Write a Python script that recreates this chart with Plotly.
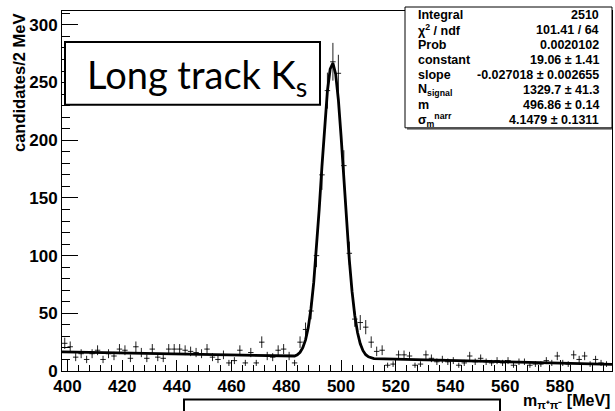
import plotly.graph_objects as go

# ---------------- data ----------------
bin_width = 2.0
bin_centers = list(range(399, 599, 2))          # 100 bins, 398..598 MeV
counts = [
    24, 21, 12, 15, 10, 15, 18, 10, 15, 13,     # 399-417
    19, 18, 11, 21, 16, 11, 19, 12, 11, 19,     # 419-437
    19, 19, 18, 17, 16, 15, 19, 12, 10, 14,     # 439-457
    7, 9, 18, 7, 16, 7, 25, 13, 12, 18,         # 459-477
    19, 13, 7, 25, 36, 52, 100, 170, 243, 268,  # 479-497
    258, 178, 102, 45, 42, 38, 25, 17, 18, 5,   # 499-517
    6, 14, 14, 13, 5, 6, 14, 11, 8, 10,         # 519-537
    8, 9, 5, 7, 13, 8, 11, 8, 7, 9,             # 539-557
    7, 9, 5, 8, 8, 5, 6, 6, 9, 7,               # 559-577
    13, 7, 6, 14, 10, 13, 6, 10, 7, 6,          # 579-597
]
errors = [c ** 0.5 for c in counts]

# fitted curve (background line + Gaussian peak)
fit_x = [398, 482, 483, 484, 485, 486, 487, 488, 489, 490, 491, 492, 493, 494,
         495, 496, 497, 498, 499, 500, 501, 502, 503, 504, 505, 506, 507, 508,
         509, 510, 511, 512, 599]
fit_y = [16.6, 12.5, 13.0, 14.1, 16.2, 20.2, 27.0, 37.8, 54.2, 76.8, 105.9, 140.3,
         177.4, 213.1, 242.7, 261.7, 266.9, 257.5, 235.1, 203.2, 166.4, 129.7, 96.4,
         69.0, 48.1, 33.4, 23.6, 17.6, 14.1, 12.3, 11.3, 10.8, 5.8]

stat_labels = ["Integral", "χ<sup>2</sup> / ndf", "Prob", "constant", "slope",
               "N<sub>signal</sub>", "m", "σ<sub>m</sub><sup>narr</sup>"]
stat_values = ["2510", "101.41 / 64", "0.0020102", "19.06 ± 1.41",
               "-0.027018 ± 0.002655", "1329.7 ± 41.3", "496.86 ± 0.14",
               "4.1479 ± 0.1311"]

x_ticks = [400, 420, 440, 460, 480, 500, 520, 540, 560, 580]
y_ticks = [0, 50, 100, 150, 200, 250, 300]

# ---------------- geometry (pixels) ----------------
W, H = 615, 411
L, R, T, B = 62, 612, 11, 371.5


def px(x):
    return (x - L) / (R - L)


def py(y):
    return (B - y) / (B - T)


fig = go.Figure()

fig.add_trace(go.Scatter(
    x=bin_centers, y=counts, mode="markers",
    marker=dict(size=1, color="black"),
    error_y=dict(type="data", array=errors, visible=True, width=0,
                 thickness=1, color="#222222"),
    error_x=dict(type="data", array=[bin_width / 2] * len(bin_centers),
                 visible=True, width=0, thickness=1, color="#222222"),
    showlegend=False, hoverinfo="skip"))

fig.add_trace(go.Scatter(
    x=fit_x, y=fit_y, mode="lines",
    line=dict(color="black", width=2.8),
    showlegend=False, hoverinfo="skip"))

tickfont = dict(family="Liberation Sans", size=17, color="black", weight="bold")

fig.update_xaxes(
    range=[398, 599], showgrid=False, zeroline=False,
    showline=True, linecolor="black", linewidth=1, mirror=True,
    ticks="inside", ticklen=11, tickwidth=1, tickcolor="black",
    tickvals=x_ticks, ticktext=[str(v) for v in x_ticks], tickfont=tickfont,
    minor=dict(ticks="inside", ticklen=6, dtick=4, tick0=400,
               tickcolor="black", tickwidth=1, showgrid=False))
fig.update_yaxes(
    range=[0, 312], showgrid=False, zeroline=False,
    showline=True, linecolor="black", linewidth=1, mirror=True,
    ticks="inside", ticklen=16, tickwidth=1, tickcolor="black",
    tickvals=y_ticks, ticktext=[str(v) for v in y_ticks], tickfont=tickfont,
    minor=dict(ticks="inside", ticklen=8, dtick=10, tick0=0,
               tickcolor="black", tickwidth=1, showgrid=False))

shapes = []
# stats box + shadow
SB_L, SB_R, SB_T, SB_B = 405, 612, 7, 128
shapes.append(dict(type="line", xref="paper", yref="paper",
                   x0=px(SB_L + 2), x1=px(SB_R), y0=py(SB_B + 1), y1=py(SB_B + 1),
                   line=dict(color="#777777", width=2), layer="above"))
shapes.append(dict(type="rect", xref="paper", yref="paper",
                   x0=px(SB_L), x1=px(SB_R), y0=py(SB_B), y1=py(SB_T),
                   fillcolor="white", line=dict(color="black", width=1),
                   layer="above"))
# "Long track" box
shapes.append(dict(type="rect", xref="paper", yref="paper",
                   x0=px(65), x1=px(320), y0=py(105), y1=py(42),
                   fillcolor="white", line=dict(color="black", width=2),
                   layer="above"))
# empty box at the bottom
shapes.append(dict(type="rect", xref="paper", yref="paper",
                   x0=px(184), x1=px(500), y0=py(416), y1=py(400),
                   fillcolor="rgba(0,0,0,0)", line=dict(color="black", width=2),
                   layer="above"))

annotations = []
stat_font = dict(family="Liberation Sans", size=12.5, color="black", weight="bold")
row_h = (SB_B - SB_T) / len(stat_labels)
for i, (lab, val) in enumerate(zip(stat_labels, stat_values)):
    yc = SB_T + row_h * (i + 0.5)
    annotations.append(dict(text=lab, xref="paper", yref="paper",
                            x=px(416), y=py(yc), xanchor="left", yanchor="middle",
                            showarrow=False, font=stat_font))
    annotations.append(dict(text=val, xref="paper", yref="paper",
                            x=px(601), y=py(yc), xanchor="right", yanchor="middle",
                            showarrow=False, font=stat_font))

annotations.append(dict(text="Long track K<sub>s</sub>", xref="paper", yref="paper",
                        x=px(197), y=py(77), xanchor="center", yanchor="middle",
                        showarrow=False,
                        font=dict(family="Lato", size=38, color="black")))

annotations.append(dict(text="candidates/2 MeV", xref="paper", yref="paper",
                        x=px(19), y=py(12), xanchor="center", yanchor="top",
                        textangle=-90, showarrow=False,
                        font=dict(family="Liberation Sans", size=16.5, color="black",
                                  weight="bold")))

annotations.append(dict(text="m<sub>π⁺π⁻</sub> [MeV]", xref="paper", yref="paper",
                        x=px(612), y=py(402), xanchor="right", yanchor="middle",
                        showarrow=False,
                        font=dict(family="Liberation Sans", size=16, color="black",
                                  weight="bold")))

fig.update_layout(
    width=W, height=H,
    margin=dict(l=L, r=W - R, t=T, b=H - B, pad=0),
    paper_bgcolor="white", plot_bgcolor="white",
    shapes=shapes, annotations=annotations, showlegend=False)

fig.write_html("out.html")
